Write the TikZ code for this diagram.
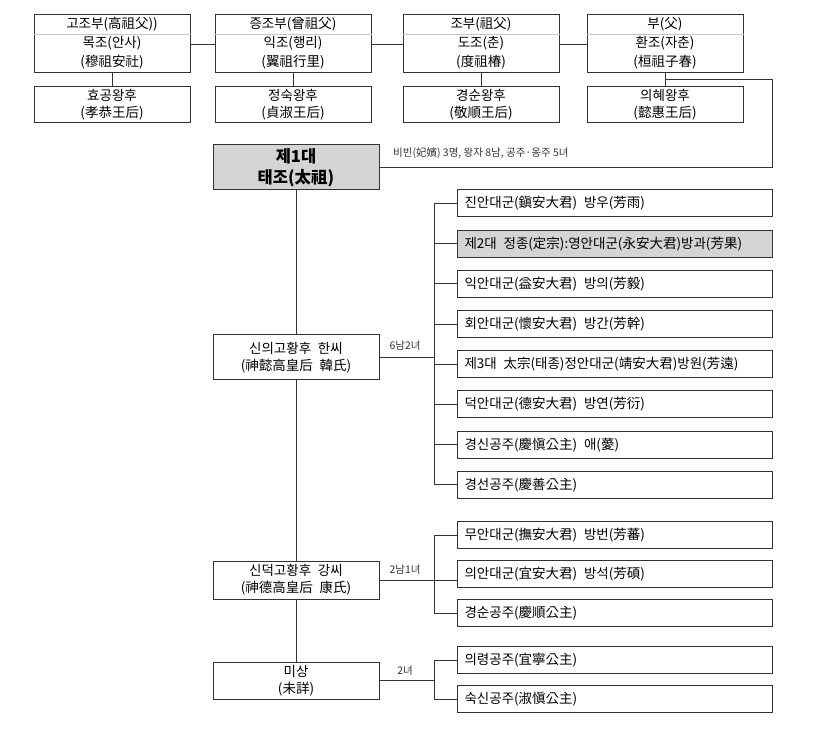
\documentclass[tikz,border=0pt]{standalone}
\usepackage{fontspec}
\setmainfont{Noto Sans CJK KR}
\usetikzlibrary{positioning}
\definecolor{boxgray}{HTML}{D4D4D4}
\definecolor{lineclr}{HTML}{333333}

\begin{document}
\begin{tikzpicture}[x=1pt, y=-1pt,
    anc/.style={draw=lineclr, line width=1pt, fill=white, minimum width=156, minimum height=58, inner sep=0pt},
    anctext/.style={align=center, inner sep=0pt, font=\fontsize{13.5}{19}\selectfont},
    sep/.style={draw=gray!45, line width=0.6pt},
    wife/.style={draw=lineclr, line width=1pt, minimum width=156, minimum height=36, inner sep=1pt, align=center, font=\fontsize{13.5}{17}\selectfont},
    king/.style={draw=lineclr, line width=1pt, fill=boxgray, minimum width=166, minimum height=45, inner sep=1pt, align=center, font=\fontsize{16.5}{21}\selectfont\bfseries},
    queen/.style={draw=lineclr, line width=1pt, fill=white, minimum width=166, inner sep=1pt, align=center, font=\fontsize{13.5}{17}\selectfont},
    child/.style={draw=lineclr, line width=1pt, minimum height=27, text width=300, inner xsep=7.5, inner ysep=0pt, align=left, font=\fontsize{13.5}{16}\selectfont},
    note/.style={inner sep=0pt, text=lineclr, font=\fontsize{10.5}{12}\selectfont},
    link/.style={draw=lineclr, line width=0.9pt},
]
\useasboundingbox (0,0) rectangle (823,730);

% Ancestors and their wives
\foreach \i/\x/\gen/\nm/\hj/\wn/\wh in {
    1/112/{고조부(高祖父))}/{목조(안사)}/{(穆祖安社)}/{효공왕후}/{(孝恭王后)},
    2/293/{증조부(曾祖父)}/{익조(행리)}/{(翼祖行里)}/{정숙왕후}/{(貞淑王后)},
    3/481/{조부(祖父)}/{도조(춘)}/{(度祖椿)}/{경순왕후}/{(敬順王后)},
    4/665/{부(父)}/{환조(자춘)}/{(桓祖子春)}/{의혜왕후}/{(懿惠王后)}
} {
    \node[anc] (a\i) at (\x, 44) {};
    \draw[sep] ([yshift=-20pt]a\i.north west) -- ([yshift=-20pt]a\i.north east);
    \node[anctext] (g\i) at ([yshift=-10pt]a\i.north) {\gen};
    \node[anctext] (n\i) at ([yshift=-38pt]a\i.north) {\nm\\\hj};
    \node[wife] (w\i) at (\x, 104.5) {\wn\\\wh};
    \draw[link] (a\i.south) -- (w\i.north);
}
\draw[link] (a1.east) -- (a2.west);
\draw[link] (a2.east) -- (a3.west);
\draw[link] (a3.east) -- (a4.west);

% Taejo
\node[king] (taejo) at (296, 167.5) {제1대\\태조(太祖)};
\node[note, anchor=west] (bibin) at (393, 153) {비빈(妃嬪) 3명, 왕자 8남, 공주·옹주 5녀};
\coordinate (fturn) at (772, 79);
\draw[link] (a4.south |- fturn) -- (fturn) -- (fturn |- taejo.east) -- (taejo.east);

% Queens
\node[queen, minimum height=45] (q1) at (296, 357.5) {신의고황후\enspace 한씨\\(神懿高皇后\enspace 韓氏)};
\node[queen, minimum height=38] (q2) at (296, 580) {신덕고황후\enspace 강씨\\(神德高皇后\enspace 康氏)};
\node[queen, minimum height=37] (q3) at (296, 680.5) {미상\\(未詳)};
\draw[link] (taejo.south) -- (q1.north);
\draw[link] (q1.south) -- (q2.north);
\draw[link] (q2.south) -- (q3.north);

% Children of Sinui
\coordinate (br1) at (434, 0);
\foreach \i/\fc/\txt in {
    0/white/{진안대군(鎭安大君)\enspace 방우(芳雨)},
    1/boxgray/{제2대\enspace 정종(定宗):영안대군(永安大君)방과(芳果)},
    2/white/{익안대군(益安大君)\enspace 방의(芳毅)},
    3/white/{회안대군(懷安大君)\enspace 방간(芳幹)},
    4/white/{제3대\enspace 太宗(태종)정안대군(靖安大君)방원(芳遠)},
    5/white/{덕안대군(德安大君)\enspace 방연(芳衍)},
    6/white/{경신공주(慶愼公主)\enspace 애(薆)},
    7/white/{경선공주(慶善公主)}
} {
    \node[child, fill=\fc] (s\i) at (614.5, {203.5+\i*40.2}) {\txt};
    \draw[link] (s\i.west) -- (s\i.west -| br1);
}
\draw[link] (br1 |- s0.west) -- (br1 |- s7.west);
\draw[link] (q1.east) -- (q1.east -| br1);
\node[note] (k1) at (405, 346) {6남2녀};

% Children of Sindeok
\coordinate (br2) at (434, 0);
\node[child] (c0) at (614.5, 535) {무안대군(撫安大君)\enspace 방번(芳蕃)};
\node[child] (c1) at (614.5, 574) {의안대군(宜安大君)\enspace 방석(芳碩)};
\node[child] (c2) at (614.5, 613) {경순공주(慶順公主)};
\draw[link] (c0.west) -- (c0.west -| br2) -- (br2 |- c2.west) -- (c2.west);
\draw[link] (q2.east) -- (q2.east -| c1.west);
\node[note] (k2) at (405, 570) {2남1녀};

% Children of unknown mother
\coordinate (br3) at (434, 0);
\node[child] (d0) at (614.5, 660) {의령공주(宜寧公主)};
\node[child] (d1) at (614.5, 699) {숙신공주(淑愼公主)};
\draw[link] (d0.west) -- (d0.west -| br3) -- (br3 |- d1.west) -- (d1.west);
\draw[link] (q3.east) -- (q3.east -| br3);
\node[note] (k3) at (405, 671) {2녀};
\end{tikzpicture}
\end{document}
